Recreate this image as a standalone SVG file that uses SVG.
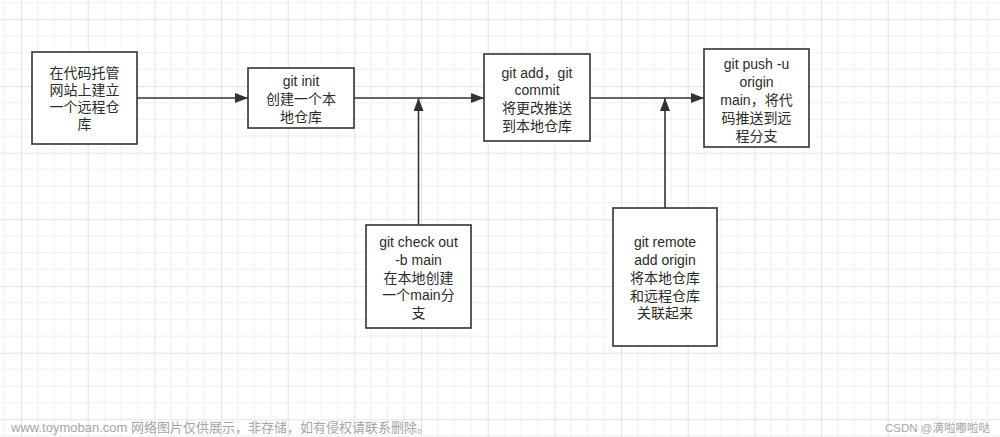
<svg xmlns="http://www.w3.org/2000/svg" width="1000" height="437" viewBox="0 0 1000 437">
  <style>
    .box { fill: #ffffff; stroke: #333333; stroke-width: 1.6; }
    .lbl { font-family: "Liberation Sans", "Noto Sans CJK SC", sans-serif; font-size: 14px; fill: #2b2b2b; text-anchor: middle; dominant-baseline: central; }
    .edge { fill: none; stroke: #333333; stroke-width: 1.6; }
    .wm { font-family: "Liberation Sans", "Noto Sans CJK SC", sans-serif; fill: #a6a6a6; }
  </style>
  <defs>
    <pattern id="grid" patternUnits="userSpaceOnUse" x="21" y="19.33" width="66.667" height="66.667">
      <path d="M16.667 0V66.667M33.333 0V66.667M50 0V66.667M0 16.667H66.667M0 33.333H66.667M0 50H66.667" stroke="#f0f0f0" stroke-width="1" fill="none"/>
      <path d="M0.5 0V66.667M0 0.5H66.667" stroke="#e3e3e3" stroke-width="1" fill="none"/>
    </pattern>
    <marker id="arrow" markerUnits="userSpaceOnUse" markerWidth="14" markerHeight="10" refX="13" refY="5" orient="auto">
      <path d="M0,0 L13,5 L0,10 Z" fill="#333333"/>
    </marker>
  </defs>
  <rect x="0" y="0" width="1000" height="437" fill="#ffffff"/>
  <rect x="0" y="0" width="1000" height="437" fill="url(#grid)"/>

  <g id="connectors">
    <line class="edge" x1="137" y1="98" x2="248" y2="98" marker-end="url(#arrow)"/>
    <line class="edge" x1="354" y1="98" x2="484" y2="98" marker-end="url(#arrow)"/>
    <line class="edge" x1="590" y1="98" x2="704" y2="98" marker-end="url(#arrow)"/>
    <line class="edge" x1="418.5" y1="225" x2="418.5" y2="98" marker-end="url(#arrow)"/>
    <line class="edge" x1="665" y1="208" x2="665" y2="98" marker-end="url(#arrow)"/>
  </g>

  <g id="node-remote-repo">
    <rect class="box" x="32" y="52" width="105" height="92"/>
    <text class="lbl" x="84.5" y="73">在代码托管</text>
    <text class="lbl" x="84.5" y="90">网站上建立</text>
    <text class="lbl" x="84.5" y="107">一个远程仓</text>
    <text class="lbl" x="84.5" y="124">库</text>
  </g>

  <g id="node-git-init">
    <rect class="box" x="248" y="68" width="106" height="60"/>
    <text class="lbl" x="301" y="81">git init</text>
    <text class="lbl" x="301" y="99">创建一个本</text>
    <text class="lbl" x="301" y="116.5">地仓库</text>
  </g>

  <g id="node-git-add-commit">
    <rect class="box" x="484" y="54" width="106" height="87"/>
    <text class="lbl" x="537" y="72.5">git add，git</text>
    <text class="lbl" x="537" y="90">commit</text>
    <text class="lbl" x="537" y="108">将更改推送</text>
    <text class="lbl" x="537" y="125.5">到本地仓库</text>
  </g>

  <g id="node-git-push">
    <rect class="box" x="704" y="49" width="105" height="98"/>
    <text class="lbl" x="756.5" y="64">git push -u</text>
    <text class="lbl" x="756.5" y="82">origin</text>
    <text class="lbl" x="756.5" y="100">main，将代</text>
    <text class="lbl" x="756.5" y="117.5">码推送到远</text>
    <text class="lbl" x="756.5" y="135.5">程分支</text>
  </g>

  <g id="node-checkout">
    <rect class="box" x="366" y="225" width="105" height="103"/>
    <text class="lbl" x="418.5" y="242">git check out</text>
    <text class="lbl" x="418.5" y="260">-b main</text>
    <text class="lbl" x="418.5" y="277.5">在本地创建</text>
    <text class="lbl" x="418.5" y="295">一个main分</text>
    <text class="lbl" x="418.5" y="312.5">支</text>
  </g>

  <g id="node-remote-add">
    <rect class="box" x="613" y="208" width="104" height="138"/>
    <text class="lbl" x="665" y="242">git remote</text>
    <text class="lbl" x="665" y="260">add origin</text>
    <text class="lbl" x="665" y="277.5">将本地仓库</text>
    <text class="lbl" x="665" y="295.5">和远程仓库</text>
    <text class="lbl" x="665" y="313">关联起来</text>
  </g>

  <text class="wm" x="11" y="432" font-size="13">www.toymoban.com 网络图片仅供展示，非存储，如有侵权请联系删除。</text>
  <text class="wm" x="990" y="432" font-size="11.5" text-anchor="end">CSDN @滴啦嘟啦哒</text>
</svg>
